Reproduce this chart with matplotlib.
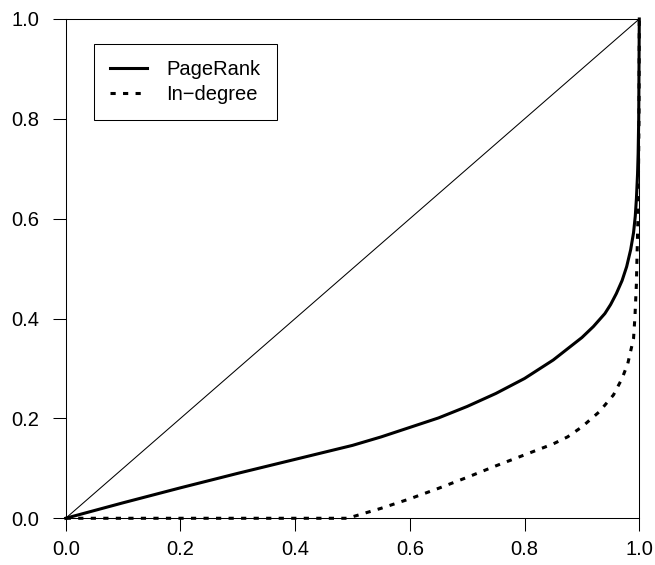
import matplotlib
matplotlib.use("Agg")
from matplotlib import pyplot as plt

plt.rcParams["font.family"] = ["Liberation Sans", "DejaVu Sans"]

# Lorenz-type curves
pagerank_x = [0.0, 0.1, 0.2, 0.3, 0.4, 0.5, 0.55, 0.6, 0.65, 0.7, 0.75, 0.8, 0.85,
              0.9, 0.92, 0.94, 0.95, 0.96, 0.97, 0.978, 0.985, 0.99, 0.993, 0.995,
              0.997, 0.998, 0.999, 1.0]
pagerank_y = [0.0, 0.031, 0.061, 0.09, 0.118, 0.146, 0.163, 0.182, 0.201, 0.224, 0.25, 0.28, 0.317,
              0.362, 0.384, 0.41, 0.428, 0.45, 0.476, 0.504, 0.538, 0.572, 0.605, 0.64,
              0.69, 0.73, 0.8, 1.0]

indegree_x = [0.0, 0.49, 0.5, 0.55, 0.6, 0.65, 0.7, 0.75, 0.8, 0.85, 0.875, 0.9, 0.93,
              0.955, 0.97, 0.98, 0.99, 0.9925, 0.995, 0.998, 0.9995, 1.0]
indegree_y = [0.0, 0.0, 0.003, 0.02, 0.039, 0.06, 0.082, 0.105, 0.127, 0.149, 0.163, 0.183, 0.213,
              0.247, 0.28, 0.31, 0.36, 0.405, 0.47, 0.62, 0.8, 1.0]

diag = [0.0, 1.0]
ticks = [0.0, 0.2, 0.4, 0.6, 0.8, 1.0]
tick_labels = ["0.0", "0.2", "0.4", "0.6", "0.8", "1.0"]


def main():
    fig = plt.figure(figsize=(6.55, 5.65), dpi=100)
    ax = fig.add_axes([0.1003, 0.0827, 0.8757, 0.8837])

    ax.plot(diag, diag, color="black", lw=0.75, clip_on=False)
    ax.plot(pagerank_x, pagerank_y, color="black", lw=2.2, label="PageRank", clip_on=False)
    ax.plot(indegree_x, indegree_y, color="black", lw=2.2, linestyle=(0, (1.7, 2.4)),
            label="In\u2212degree", clip_on=False)

    ax.set_xlim(0, 1)
    ax.set_ylim(0, 1)
    ax.set_xticks(ticks)
    ax.set_xticklabels(tick_labels)
    ax.set_yticks(ticks)
    ax.set_yticklabels(tick_labels)
    ax.tick_params(direction="out", length=9.4, width=0.75, labelsize=14.5, color="black")
    ax.tick_params(axis="x", pad=6.5)
    ax.tick_params(axis="y", pad=9.4)
    for s in ax.spines.values():
        s.set_linewidth(0.75)
        s.set_color("black")

    leg = ax.legend(loc="upper left", bbox_to_anchor=(0.0493, 0.950), fontsize=14.5,
                    frameon=True, fancybox=False, edgecolor="black", framealpha=1,
                    borderpad=0.8, handlelength=1.85, handletextpad=0.95,
                    labelspacing=0.3, borderaxespad=0)
    leg.get_frame().set_linewidth(0.75)

    fig.savefig("out.png", dpi=100)


if __name__ == "__main__":
    main()
